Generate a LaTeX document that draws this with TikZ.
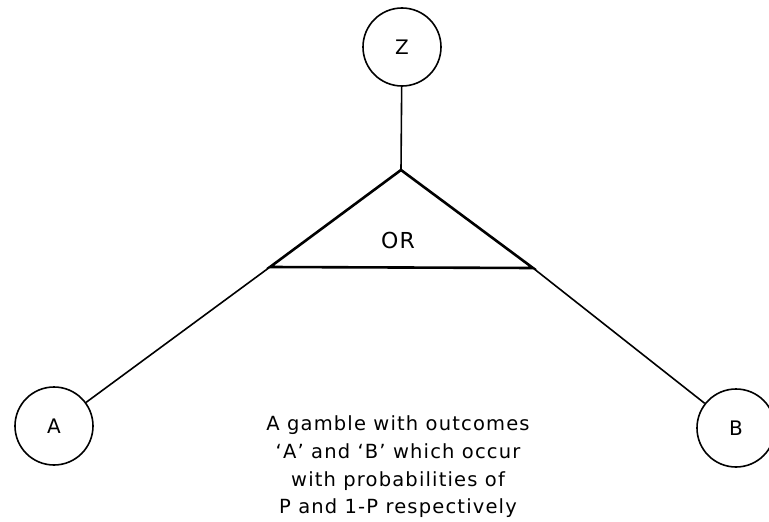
\documentclass[tikz,border=0pt]{standalone}
\usepackage{fontspec}
\setmainfont{DejaVu Sans}
\newfontfamily\notefont[LetterSpace=6]{DejaVu Sans}
\usepackage{tikz}
\usetikzlibrary{positioning,calc}

\begin{document}
\begin{tikzpicture}[
  x=1pt,y=-1pt,
  outcome/.style={draw,circle,minimum size=78pt,inner sep=0pt,line width=1.6pt,font=\fontsize{20}{22}\selectfont},
  wire/.style={line width=1.6pt},
  orgate/.style={line width=2.6pt,line join=miter}
]
\useasboundingbox (0,0) rectangle (769,522);
% outcomes
\node[outcome] (z) at (402,47) {Z};
\node[outcome] (optA) at (54,426) {A};
\node[outcome] (optB) at (736,428) {B};
% the OR triangle
\coordinate (orT) at (401,170);
\coordinate (orL) at (270,267);
\coordinate (orR) at (533,268);
\draw[orgate] (orT) -- (orL) -- (orR) -- cycle;
\node[font=\notefont\fontsize{22}{24}\selectfont] (ortxt) at (398,240) {OR};
\draw[wire] (z) -- (orT);
\draw[wire] (orL) -- (optA);
\draw[wire] (orR) -- (optB);
\node[align=center,font=\notefont\fontsize{19.5}{27.7}\selectfont] (note) at (398,467)
  {A gamble with outcomes\\‘A’ and ‘B’ which occur\\with probabilities of\\P and 1-P respectively};
\end{tikzpicture}
\end{document}
